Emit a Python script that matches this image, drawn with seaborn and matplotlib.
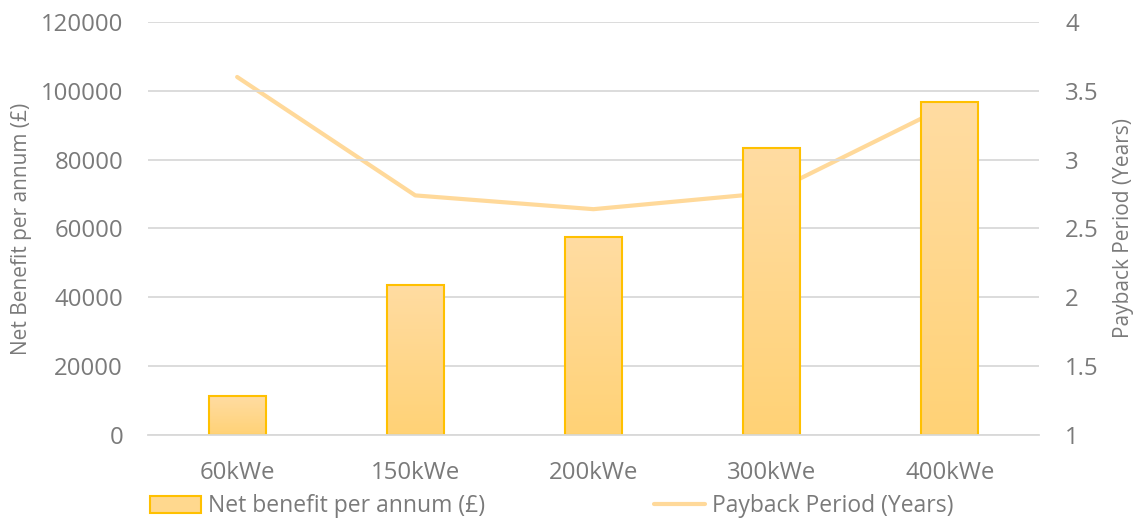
import numpy as np
import pandas as pd
import matplotlib.pyplot as plt
import seaborn as sns
from matplotlib.patches import Patch
from matplotlib.lines import Line2D
from matplotlib.colors import LinearSegmentedColormap

categories = ["60kWe", "150kWe", "200kWe", "300kWe", "400kWe"]
net_benefit = [11300, 43600, 57500, 83400, 96700]
payback_years = [3.60, 2.74, 2.64, 2.76, 3.40]

df = pd.DataFrame({"size": categories, "benefit": net_benefit, "payback": payback_years})

sns.set_style("white")
plt.rcParams["font.family"] = ["Open Sans", "DejaVu Sans"]

grey = "#7A7A7A"
bar_edge = "#FFC000"
line_col = "#FFD99A"

fig = plt.figure(figsize=(11.39, 5.21), dpi=100)
ax = fig.add_axes([0.13, 0.165, 0.782, 0.793])
ax2 = ax.twinx()

sns.barplot(data=df, x="size", y="benefit", ax=ax, width=0.32,
            color="#FFD88E", edgecolor=bar_edge, linewidth=1.5, zorder=3)

# vertical gradient fill like the original
cmap = LinearSegmentedColormap.from_list("g", ["#FFD276", "#FFDCA2"])
grad = np.linspace(0, 1, 256).reshape(-1, 1)
for p in ax.patches:
    x0, y0 = p.get_x(), p.get_y()
    w, h = p.get_width(), p.get_height()
    im = ax.imshow(grad, cmap=cmap, origin="lower", aspect="auto",
                   extent=[x0, x0 + w, y0, y0 + h], zorder=3.5)
    im.set_clip_path(p)
    p.set_facecolor("none")
    p.set_zorder(4)

sns.lineplot(data=df, x="size", y="payback", ax=ax2, color=line_col,
             linewidth=3, sort=False)

# line sits behind the bars
ax.set_zorder(ax2.get_zorder() + 1)
ax.patch.set_visible(False)

ax.set_xlim(-0.5, 4.5)
ax.set_ylim(0, 120000)
ax.set_yticks(np.arange(0, 120001, 20000))
ax2.set_ylim(1, 4)
ax2.set_yticks([1, 1.5, 2, 2.5, 3, 3.5, 4])
ax2.set_yticklabels(["1", "1.5", "2", "2.5", "3", "3.5", "4"])

ax.yaxis.grid(True, color="#D9D9D9", linewidth=1.3, zorder=0)
for a in (ax, ax2):
    for s in a.spines.values():
        s.set_visible(False)
    a.tick_params(length=0, labelsize=17.3, labelcolor=grey, pad=18)
ax.spines["bottom"].set_visible(True)
ax.spines["bottom"].set_color("#D9D9D9")
ax.spines["bottom"].set_linewidth(1.3)
ax.spines["bottom"].set_zorder(5)
ax.tick_params(axis="x", pad=18.5)
ax2.tick_params(axis="y", pad=19)

ax.set_xlabel("")
ax.set_ylabel("Net Benefit per annum (£)", fontsize=15, color=grey, labelpad=6)
ax2.set_ylabel("Payback Period (Years)", fontsize=15, color=grey, labelpad=10)

handles = [Patch(facecolor="#FFD88E", edgecolor=bar_edge, linewidth=1.5),
           Line2D([0], [0], color=line_col, linewidth=3)]
labels = ["Net benefit per annum (£)", "Payback Period (Years)"]
fig.legend(handles, labels, loc="center left", bbox_to_anchor=(0.132, 0.028),
           ncol=2, frameon=False, fontsize=16.5, labelcolor=grey,
           handlelength=2.2, handleheight=0.75, handletextpad=0.3,
           columnspacing=7.4, borderaxespad=0, borderpad=0)

plt.savefig("out.png", dpi=100)
